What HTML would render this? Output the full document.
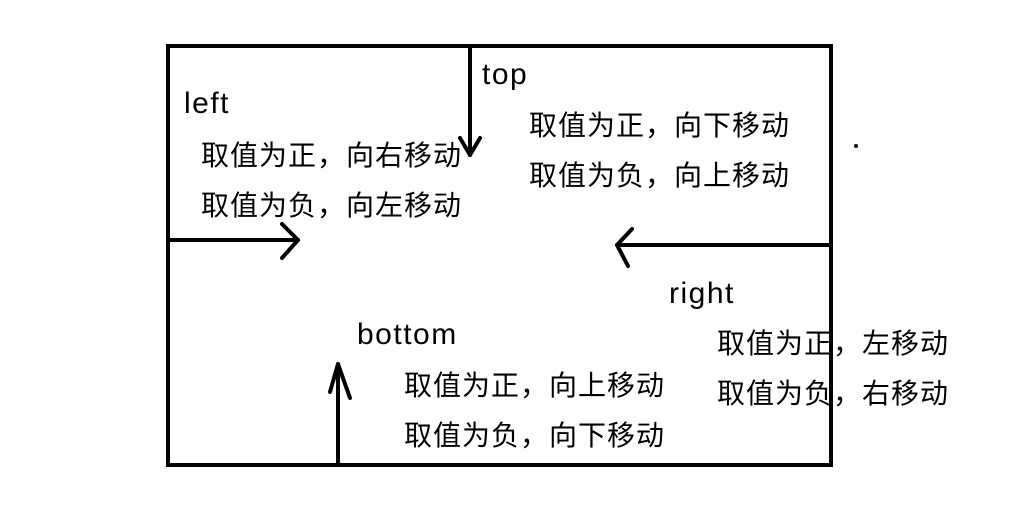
<!DOCTYPE html>
<html><head><meta charset="utf-8"><style>
body{margin:0;background:#fff;}
svg text{font-family:"Liberation Sans","Noto Sans CJK SC",sans-serif;fill:#000;}
.c{font-size:28px;letter-spacing:1px;}
.e{font-size:30px;letter-spacing:1.5px;}
</style></head><body>
<svg width="1016" height="523" viewBox="0 0 1016 523">
<rect x="168" y="46" width="663" height="419" fill="none" stroke="#000" stroke-width="4"/>
<g stroke="#000" stroke-width="4" fill="none" stroke-linecap="round" stroke-linejoin="round">
<line x1="470" y1="46" x2="470" y2="155"/>
<polyline points="460,138 470,155 480,138"/>
<line x1="168" y1="240" x2="298" y2="240"/>
<polyline points="282,224 298,240 282,258"/>
<line x1="831" y1="245" x2="617" y2="245"/>
<polyline points="632,229 617,245 628,266"/>
<line x1="338" y1="465" x2="338" y2="364"/>
<polyline points="330,392 338,364 350,398"/>
</g>
<circle cx="856" cy="146" r="2" fill="#000"/>
<text class="e" x="184" y="113">left</text>
<text class="c" x="201" y="165">取值为正，向右移动</text>
<text class="c" x="201" y="215">取值为负，向左移动</text>
<text class="e" x="482" y="84">top</text>
<text class="c" x="529" y="135">取值为正，向下移动</text>
<text class="c" x="529" y="185">取值为负，向上移动</text>
<text class="e" x="669" y="303">right</text>
<text class="c" x="717" y="353">取值为正，左移动</text>
<text class="c" x="717" y="403">取值为负，右移动</text>
<text class="e" x="357" y="344">bottom</text>
<text class="c" x="404" y="395">取值为正，向上移动</text>
<text class="c" x="404" y="445">取值为负，向下移动</text>
</svg>
</body></html>
